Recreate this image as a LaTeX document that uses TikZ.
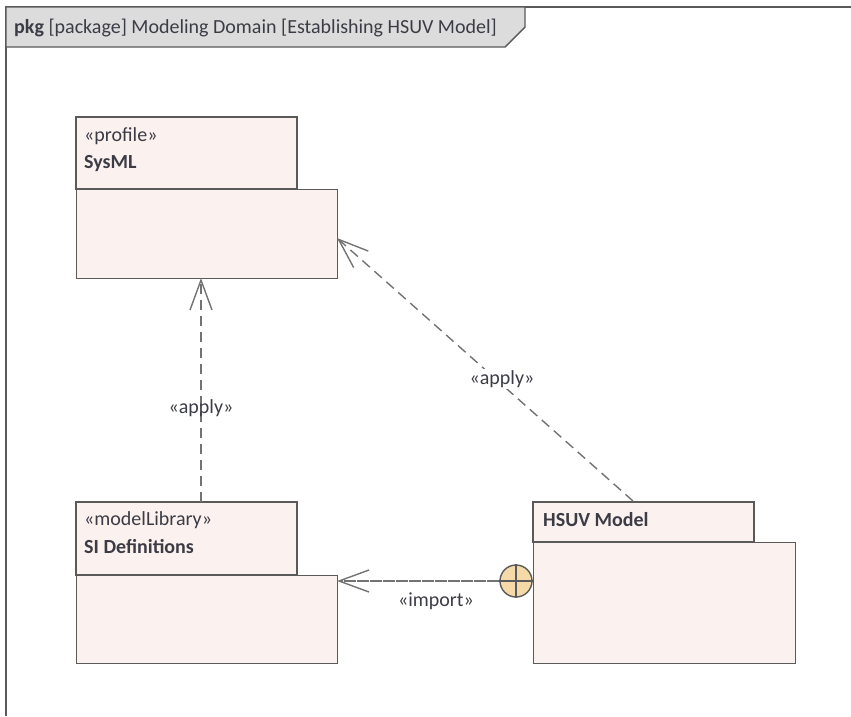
\documentclass[tikz,border=0pt]{standalone}
\usepackage{fontspec}
\setmainfont{Carlito}
\usetikzlibrary{arrows.meta}
\definecolor{pkgfill}{HTML}{FBF1EE}
\definecolor{pkgline}{HTML}{5A5A5A}
\definecolor{tabfill}{HTML}{DCDCDC}
\definecolor{txt}{HTML}{3C3C46}
\definecolor{impfill}{HTML}{F6D9A8}
\tikzset{
  pkgbox/.style={draw=pkgline, fill=pkgfill, line width=1.4pt, inner sep=0pt},
  stereo/.style={anchor=base west, text=txt, font=\fontsize{20}{24}\selectfont, inner sep=0pt},
  lbl/.style={text=txt, font=\fontsize{20}{24}\selectfont, inner sep=1pt},
  barb/.style={-{Straight Barb[length=30pt,width=22pt,line width=1.4pt]}},
  dep/.style={draw=pkgline!85, line width=1.4pt, dash pattern=on 10pt off 6pt, barb},
  imp/.style={draw=pkgline!85, line width=1.4pt, dash pattern=on 12pt off 1pt, barb},
}
\begin{document}
\begin{tikzpicture}[x=1pt,y=-1pt]
\useasboundingbox (0,0) rectangle (851,716);
% frame
\draw[draw=pkgline, line width=1.8pt] (6,716) -- (6,7) -- (851,7);
\draw[draw=pkgline, fill=tabfill, line width=1.4pt] (6,7) -- (525,7) -- (525,27) -- (505,47) -- (6,47) -- cycle;
\node[anchor=base west, text=txt, font=\fontsize{20}{24}\selectfont, inner sep=0pt] (title) at (14,33) {\textbf{pkg} [package] Modeling Domain [Establishing HSUV Model]};
% SysML
\path[pkgbox] (76,117) rectangle (297,189);
\node[pkgbox, minimum width=261pt, minimum height=89pt, anchor=north west] (sysml) at (76,189) {};
\node[stereo] (sysmlst) at (84,141) {«profile»};
\node[stereo] (sysmlnm) at (84,168) {\textbf{SysML}};
% SI Definitions
\path[pkgbox] (76,502) rectangle (297,575);
\node[pkgbox, minimum width=261pt, minimum height=88pt, anchor=north west] (si) at (76,575) {};
\node[stereo] (sist) at (84,525) {«modelLibrary»};
\node[stereo] (sinm) at (84,553) {\textbf{SI Definitions}};
% HSUV Model
\path[pkgbox] (533,502) rectangle (754,542);
\node[pkgbox, minimum width=262pt, minimum height=121pt, anchor=north west] (hsuv) at (533,542) {};
\node[stereo] (hsuvnm) at (543,526) {\textbf{HSUV Model}};
% anchors for connectors
\coordinate (siTop) at (201,502);
\coordinate (sysBot) at (201,278);
\coordinate (hsTop) at (633,501);
\coordinate (sysRight) at (337,238);
\coordinate (siRight) at (337,581);
% import circle
\node[circle, draw=pkgline, fill=impfill, line width=1.4pt, minimum size=32pt, inner sep=0pt] (plus) at (516,581) {};
\draw[draw=pkgline, line width=1.4pt] (plus.north) -- (plus.south) (plus.west) -- (plus.east);
% connectors
\draw[dep] (siTop) -- (sysBot);
\node[lbl] (l1) at (201,408) {«apply»};
\draw[dep] (hsTop) -- (sysRight);
\node[lbl, fill=white] (l2) at (502,379) {«apply»};
\draw[imp] (plus.west) -- (siRight);
\node[lbl] (l3) at (436,601) {«import»};
\end{tikzpicture}
\end{document}
